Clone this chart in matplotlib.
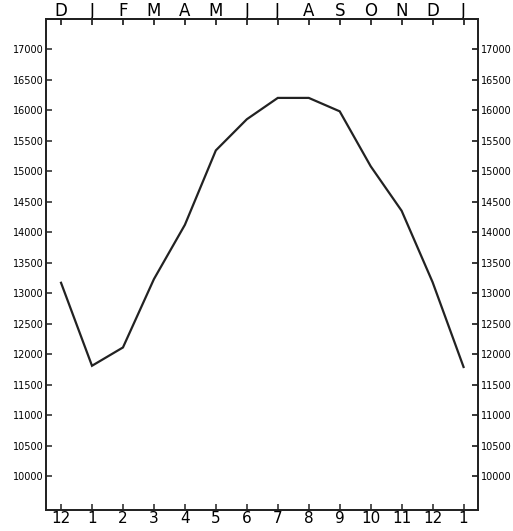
import matplotlib
matplotlib.use("Agg")
import matplotlib.pyplot as plt

# monthly values, Dec of previous year .. Jan of next year
months_num = ["12", "1", "2", "3", "4", "5", "6", "7", "8", "9", "10", "11", "12", "1"]
months_abbr = ["D", "J", "F", "M", "A", "M", "J", "J", "A", "S", "O", "N", "D", "J"]
values = [13170, 11810, 12110, 13230, 14120, 15340, 15850, 16200, 16200,
          15980, 15080, 14350, 13180, 11790]
yticks = list(range(10000, 17001, 500))

x = list(range(len(values)))

fig = plt.figure(figsize=(5.13, 5.31), dpi=100)
ax = fig.add_axes([0.0906, 0.04, 0.842, 0.925])

ax.plot(x, values, color="#222222", lw=1.6, solid_joinstyle="miter")

ax.set_xlim(-0.47, 13.48)
ax.set_ylim(9450, 17500)

ax.set_xticks(x)
ax.set_xticklabels(months_num, fontsize=11)
ax.set_yticks(yticks)
ax.set_yticklabels([str(v) for v in yticks], fontsize=7)
ax.tick_params(axis="both", direction="in", length=4, width=1.1, color="#222222")
ax.tick_params(axis="x", pad=1)
ax.tick_params(axis="y", pad=2)

top = ax.secondary_xaxis("top")
top.set_xticks(x)
top.set_xticklabels(months_abbr, fontsize=12)
top.tick_params(direction="in", length=4, width=1.1, pad=-1)

right = ax.twinx()
right.set_ylim(ax.get_ylim())
right.set_yticks(yticks)
right.set_yticklabels([str(v) for v in yticks], fontsize=7)
right.tick_params(direction="in", length=4, width=1.1, pad=2)

for a in (ax, right):
    for s in a.spines.values():
        s.set_linewidth(1.3)
        s.set_color("#222222")
top.spines["top"].set_linewidth(1.3)

fig.savefig("out.png", dpi=100)
